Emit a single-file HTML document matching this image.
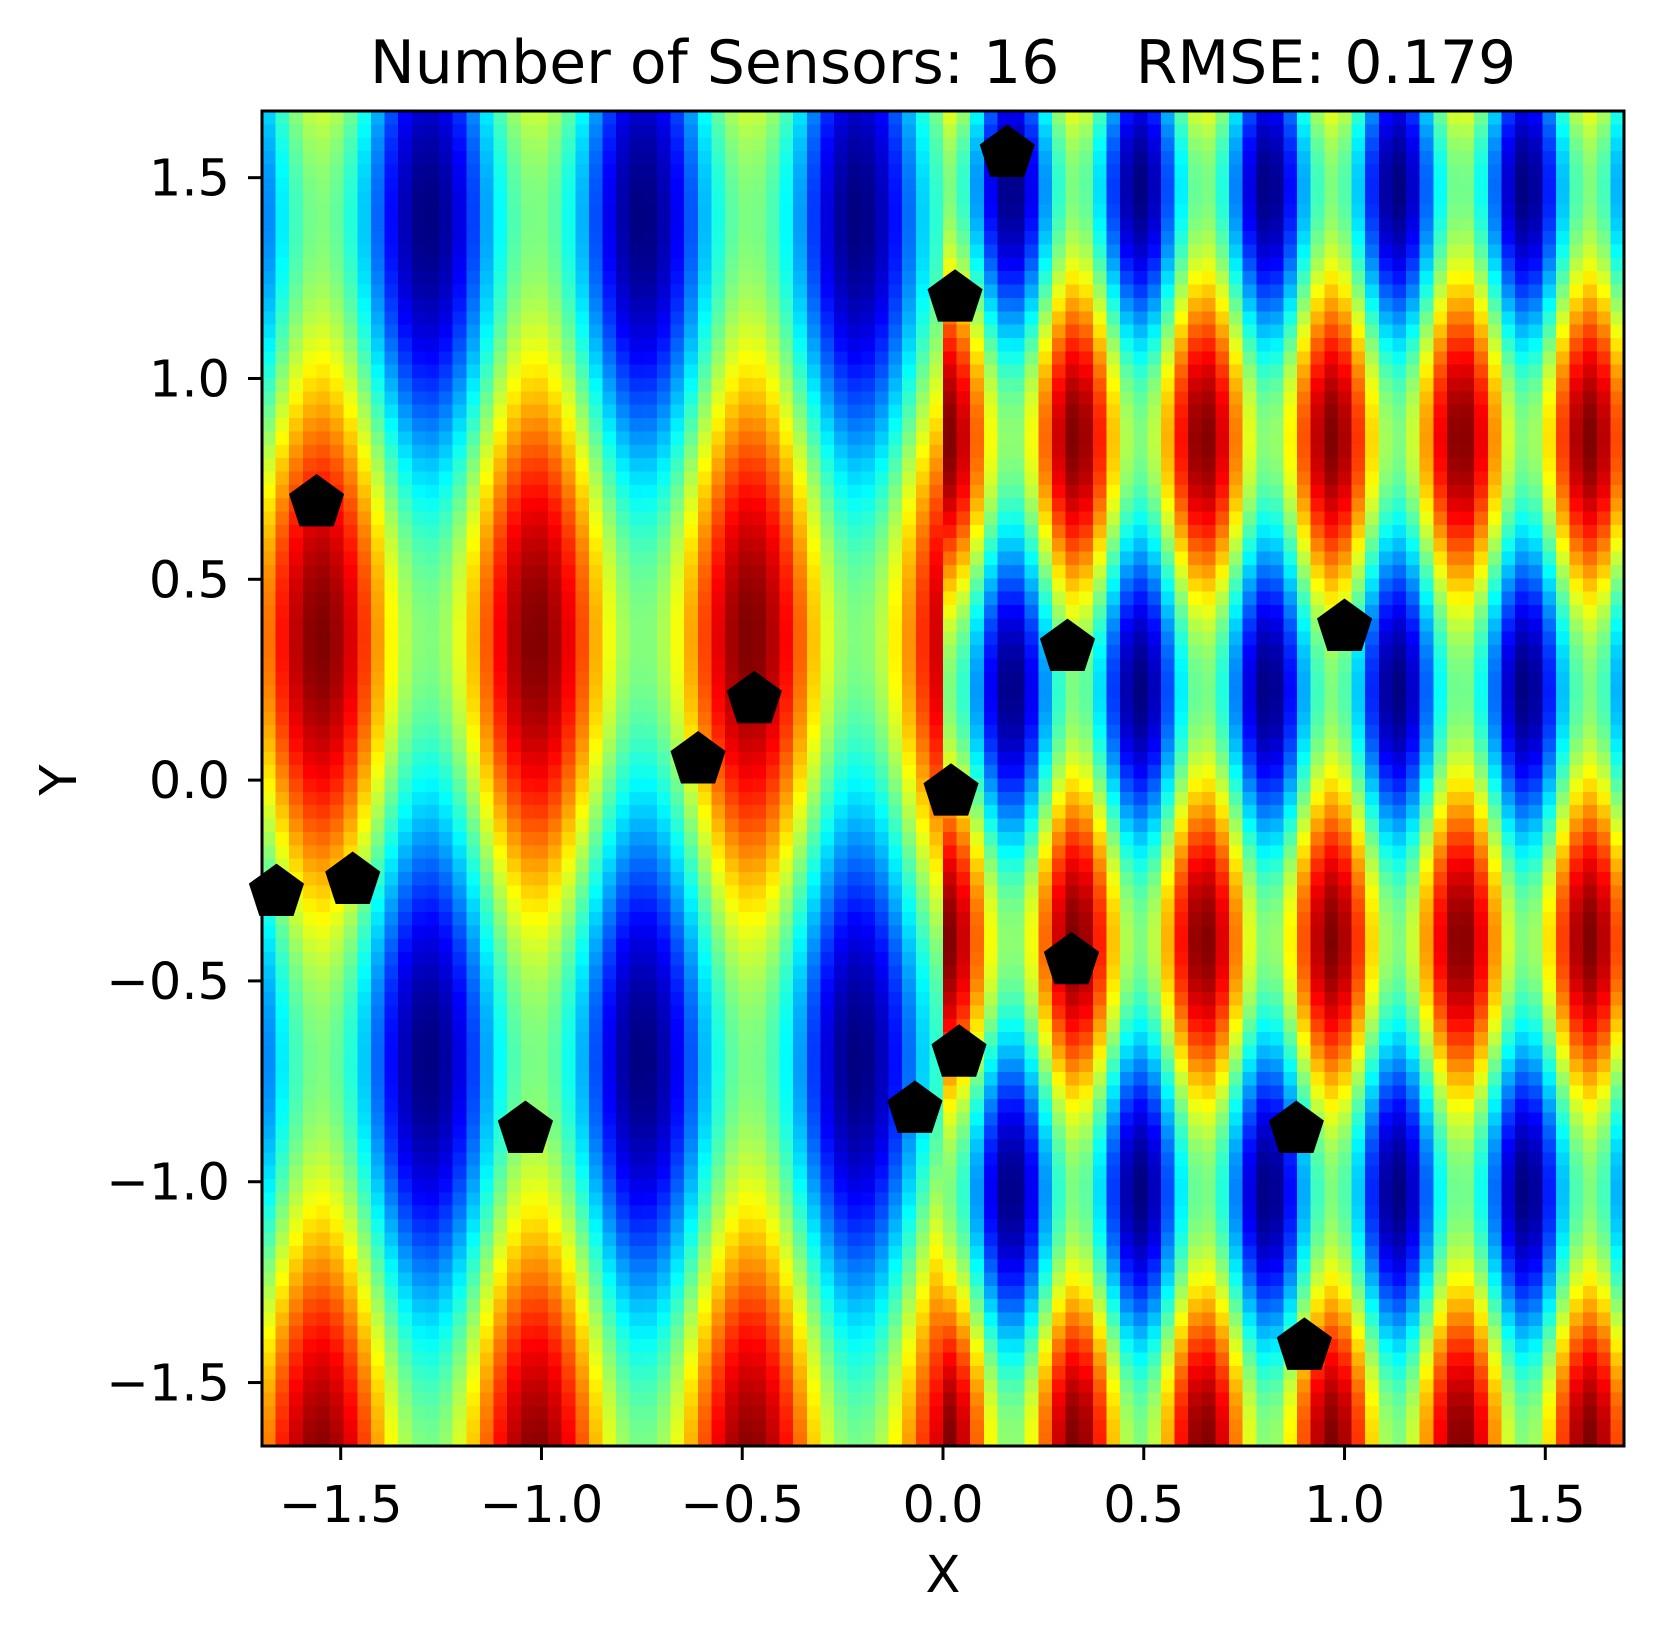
<!DOCTYPE html>
<html><head><meta charset="utf-8"><style>
body{margin:0;background:#fff;width:1660px;height:1636px;overflow:hidden;font-family:"DejaVu Sans","Liberation Sans",sans-serif}
#wrap{position:relative;width:1660px;height:1636px}
canvas{position:absolute;left:262px;top:111px;width:1362px;height:1335px;image-rendering:pixelated}
svg{position:absolute;left:0;top:0}
text{font-family:"DejaVu Sans","Liberation Sans",sans-serif}
</style></head><body>
<div id="wrap">
<canvas id="heat" width="100" height="100"></canvas>
<svg id="svg" width="1660" height="1636"></svg>
</div>
<script>
// field parameters (left and right lattice of peaks)
const leftPeak = [-1.55, 0.35];
const leftPeriod = [0.535, 2.1];
const rightPeak = [0.33, 0.85];
const rightPeriod = [0.32, 1.25];
const xTicks = [-1.5, -1.0, -0.5, 0.0, 0.5, 1.0, 1.5];
const yTicks = [-1.5, -1.0, -0.5, 0.0, 0.5, 1.0, 1.5];
const sensorX = [0.16, 0.03, -1.56, -0.47, -0.61, 0.31, 1.0, 0.02, -1.66, -1.47, 0.32, 0.04, -0.07, -1.04, 0.88, 0.9];
const sensorY = [1.56, 1.2, 0.69, 0.2, 0.05, 0.33, 0.38, -0.03, -0.28, -0.25, -0.45, -0.68, -0.82, -0.87, -0.87, -1.41];

const X0=262, X1=1624, Y0=111, Y1=1446, xmin=-1.696, xmax=1.696, ymin=-1.658, ymax=1.666;
const sx = v => X0 + (v - xmin) / (xmax - xmin) * (X1 - X0);
const sy = v => Y1 - (v - ymin) / (ymax - ymin) * (Y1 - Y0);

function jet(t){
  t=Math.max(0,Math.min(1,t));
  const r=Math.max(0,Math.min(1,1.5-Math.abs(4*t-3)));
  const g=Math.max(0,Math.min(1,1.5-Math.abs(4*t-2)));
  const b=Math.max(0,Math.min(1,1.5-Math.abs(4*t-1)));
  return [r*255,g*255,b*255];
}
function field(x,y){
  const p = x<0 ? leftPeak : rightPeak, P = x<0 ? leftPeriod : rightPeriod;
  const u = 2*Math.PI*(x-p[0])/P[0], v = 2*Math.PI*(y-p[1])/P[1];
  return (Math.cos(u)+Math.cos(v))/2;
}
const cv=document.getElementById('heat'), ctx=cv.getContext('2d');
const img=ctx.createImageData(100,100);
for(let j=0;j<100;j++)for(let i=0;i<100;i++){
  const x=xmin+(i+0.5)/100*(xmax-xmin), y=ymax-(j+0.5)/100*(ymax-ymin);
  const c=jet((field(x,y)+1)/2), k=(j*100+i)*4;
  img.data[k]=c[0];img.data[k+1]=c[1];img.data[k+2]=c[2];img.data[k+3]=255;
}
ctx.putImageData(img,0,0);

const svg=document.getElementById('svg'), NS='http://www.w3.org/2000/svg';
function mk(tag,attrs,txt){const e=document.createElementNS(NS,tag);for(const k in attrs)e.setAttribute(k,attrs[k]);if(txt!==undefined)e.textContent=txt;svg.appendChild(e);return e;}
const fmt=v=>(v<0?'\u2212':'')+Math.abs(v).toFixed(1);
xTicks.forEach(v=>{
  const l=mk('line',{x1:sx(v),x2:sx(v),y1:Y1,y2:Y1+14,stroke:'#000','stroke-width':3});
  
  
  const t=mk('text',{x:sx(v),y:1522,'font-size':51,'text-anchor':'middle'},fmt(v));
  
  
});
yTicks.forEach(v=>{
  const l=mk('line',{x1:X0-14,x2:X0,y1:sy(v),y2:sy(v),stroke:'#000','stroke-width':3});
  
  
  const t=mk('text',{x:X0-32,y:sy(v)+18,'font-size':51,'text-anchor':'end'},fmt(v));
  
  
});
sensorX.forEach((x,i)=>{
  const cx=sx(x), cy=sy(sensorY[i]), r=29, pts=[];
  for(let k=0;k<5;k++){const a=-Math.PI/2+k*2*Math.PI/5;pts.push((cx+r*Math.cos(a)).toFixed(1)+','+(cy+r*Math.sin(a)).toFixed(1));}
  const p=mk('polygon',{points:pts.join(' '),fill:'#000'});
  
  
});
const fr=mk('rect',{x:X0,y:Y0,width:X1-X0,height:Y1-Y0,fill:'none',stroke:'#000','stroke-width':3});


const ti=mk('text',{x:943,y:83,'font-size':60,'text-anchor':'middle','xml:space':'preserve'},'Number of Sensors: 16    RMSE: 0.179');


ti.style.whiteSpace='pre';
const xl=mk('text',{x:943,y:1592,'font-size':51,'text-anchor':'middle'},'X');


const yl=mk('text',{x:0,y:0,'font-size':51,'text-anchor':'middle',transform:'translate(76,780) rotate(-90)'},'Y');


</script>
</body></html>
